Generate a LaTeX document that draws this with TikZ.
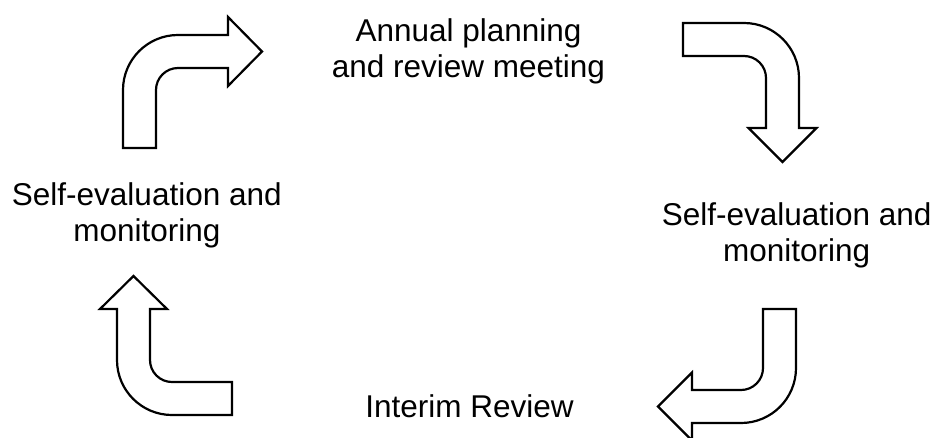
\documentclass[tikz,border=0pt]{standalone}
\usepackage{fontspec}
\setmainfont{Liberation Sans}
\begin{document}
\begin{tikzpicture}[x=1pt,y=-1pt,
  blockarrow/.style={draw=black,line width=2.2pt,line join=miter,fill=white},
  lbl/.style={inner sep=0pt,align=center,anchor=base,font=\fontsize{31.5pt}{36pt}\selectfont}]
\useasboundingbox (0,0) rectangle (934,437);
% top-left arrow (up then right)
\draw[blockarrow] (123,148) -- (123,90) arc[start angle=180,end angle=90,radius=55pt]
  -- (228,35) -- (228,17) -- (262,51.5) -- (228,86) -- (228,68) -- (178,68)
  arc[start angle=90,end angle=180,radius=22pt] -- (156,148) -- cycle;
% top-right arrow (right then down)
\draw[blockarrow] (683,23) -- (744,23) arc[start angle=90,end angle=0,radius=55pt]
  -- (799,128) -- (816.5,128) -- (782.5,162) -- (748.5,128) -- (766,128) -- (766,78)
  arc[start angle=0,end angle=90,radius=22pt] -- (683,56) -- cycle;
% bottom-right arrow (down then left)
\draw[blockarrow] (763,309) -- (796,309) -- (796,368)
  arc[start angle=0,end angle=-90,radius=55pt] -- (692,423) -- (692,440.5)
  -- (658,406.5) -- (692,372.5) -- (692,390) -- (741,390)
  arc[start angle=-90,end angle=0,radius=22pt] -- cycle;
% bottom-left arrow (left then up)
\draw[blockarrow] (150,309) -- (150,360) arc[start angle=180,end angle=270,radius=22pt]
  -- (232,382) -- (232,415) -- (172,415) arc[start angle=270,end angle=180,radius=55pt]
  -- (117,309) -- (100,309) -- (133.5,276) -- (167,309) -- cycle;
% labels
\node[lbl] (annual) at (468.5,77.7) {Annual planning\\and review meeting};
\node[lbl] (selfL) at (146.8,241.7) {Self-evaluation and\\monitoring};
\node[lbl] (selfR) at (796.7,261.7) {Self-evaluation and\\monitoring};
\node[lbl] (interim) at (469.5,417.3) {Interim Review};
\end{tikzpicture}
\end{document}
